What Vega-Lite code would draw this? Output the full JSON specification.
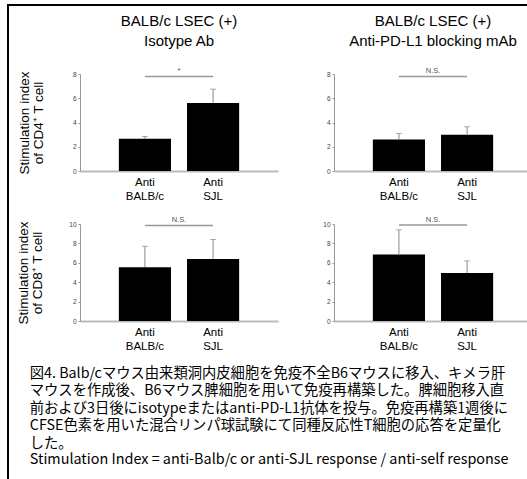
{
  "$schema": "https://vega.github.io/schema/vega-lite/v6.json",
  "padding": {"left": 7, "top": 4, "right": 0, "bottom": 0},
  "background": "white",
  "config": {
    "view": {"stroke": null},
    "font": "Liberation Sans",
    "title": {"fontSize": 15, "fontWeight": "normal", "font": "Liberation Sans", "lineHeight": 20, "color": "black", "offset": 18},
    "axisY": {"domainColor": "#999", "tickColor": "#999", "tickSize": 2, "labelFontSize": 6.5, "labelColor": "#444", "labelPadding": 2, "labelOverlap": false, "grid": false, "titleFontSize": 13.5, "titleFontWeight": "normal", "titleColor": "black", "titleLineHeight": 14, "titleFont": "Liberation Sans"},
    "axisX": {"domainColor": "#bbb", "domainWidth": 2, "ticks": false, "labelFontSize": 11.5, "labelColor": "black", "labelAngle": 0, "labelPadding": 5, "labelLineHeight": 14, "labelFont": "Liberation Sans"}
  },
  "datasets": {
    "cd4_iso": [{"group": "Anti BALB/c", "mean": 2.65, "upper": 2.85}, {"group": "Anti SJL", "mean": 5.6, "upper": 6.75}],
    "cd4_pdl1": [{"group": "Anti BALB/c", "mean": 2.6, "upper": 3.1}, {"group": "Anti SJL", "mean": 3.0, "upper": 3.65}],
    "cd8_iso": [{"group": "Anti BALB/c", "mean": 5.55, "upper": 7.7}, {"group": "Anti SJL", "mean": 6.4, "upper": 8.4}],
    "cd8_pdl1": [{"group": "Anti BALB/c", "mean": 6.85, "upper": 9.4}, {"group": "Anti SJL", "mean": 4.95, "upper": 6.2}]
  },
  "spacing": 0,
  "hconcat": [
    {"width": 2, "height": 476, "data": {"values": []}, "mark": "point", "view": {"fill": "black", "stroke": null}},
    {
      "spacing": 8,
      "vconcat": [
        {"width": 518, "height": 2, "data": {"values": []}, "mark": "point", "view": {"fill": "black", "stroke": null}},
        {
          "spacing": 0,
          "hconcat": [
            {"width": 7, "height": 1, "data": {"values": []}, "mark": "point"},
            {
              "spacing": 13,
              "title": {
                "text": ["図4. Balb/cマウス由来類洞内皮細胞を免疫不全B6マウスに移入、キメラ肝", "マウスを作成後、B6マウス脾細胞を用いて免疫再構築した。脾細胞移入直", "前および3日後にisotypeまたはanti-PD-L1抗体を投与。免疫再構築1週後に", "CFSE色素を用いた混合リンパ球試験にて同種反応性T細胞の応答を定量化", "した。"],
                "subtitle": "Stimulation Index = anti-Balb/c or anti-SJL response / anti-self response",
                "orient": "bottom", "anchor": "start", "frame": "bounds",
                "font": "Noto Sans CJK JP", "fontSize": 14.3, "fontWeight": "normal", "lineHeight": 17.5, "color": "black",
                "subtitleFont": "Noto Sans CJK JP", "subtitleFontSize": 14.4, "subtitleColor": "black", "subtitlePadding": 2,
                "offset": 15, "dx": 13
              },
              "vconcat": [
                {
                  "spacing": 48,
                  "hconcat": [
                    {
                      "width": 198, "height": 97,
                      "title": {"text": ["BALB/c LSEC (+)", "Isotype Ab"]},
                      "data": {"name": "cd4_iso"},
                      "encoding": {"x": {"field": "group", "type": "nominal", "title": null, "scale": {"paddingInner": 0.235, "paddingOuter": 0.57}, "axis": {"labelExpr": "split(datum.label, ' ')"}}},
                      "layer": [
                        {"mark": {"type": "bar", "color": "black"}, "encoding": {"y": {"field": "mean", "type": "quantitative", "title": ["Stimulation index", "of CD4⁺ T cell"], "scale": {"domain": [0, 8]}, "axis": {"values": [0, 2, 4, 6, 8], "titleFontSize": 13.5, "titleLineHeight": 14, "titlePadding": 27, "labelOverlap": false}}}},
                        {"mark": {"type": "rule", "color": "#888", "strokeWidth": 1}, "encoding": {"y": {"field": "mean", "type": "quantitative", "title": ["Stimulation index", "of CD4⁺ T cell"], "axis": {"values": [0, 2, 4, 6, 8], "titleFontSize": 13.5, "titleLineHeight": 14, "titlePadding": 27, "labelOverlap": false}}, "y2": {"field": "upper"}}},
                        {"mark": {"type": "tick", "color": "#888", "size": 6, "thickness": 1}, "encoding": {"y": {"field": "upper", "type": "quantitative", "title": ["Stimulation index", "of CD4⁺ T cell"], "axis": {"values": [0, 2, 4, 6, 8], "titleFontSize": 13.5, "titleLineHeight": 14, "titlePadding": 27, "labelOverlap": false}}}},
                        {"data": {"values": [{"from": "Anti BALB/c", "to": "Anti SJL", "y": 7.8, "label": "*"}]}, "mark": {"type": "rule", "color": "#999", "strokeWidth": 1.5}, "encoding": {"x": {"field": "from", "type": "nominal", "title": null, "bandPosition": 0.5, "axis": {"labelExpr": "split(datum.label, ' ')"}}, "x2": {"field": "to", "bandPosition": 0.5}, "y": {"field": "y", "type": "quantitative", "title": ["Stimulation index", "of CD4⁺ T cell"], "axis": {"values": [0, 2, 4, 6, 8], "titleFontSize": 13.5, "titleLineHeight": 14, "titlePadding": 27, "labelOverlap": false}}}},
                        {"data": {"values": [{"from": "Anti BALB/c", "to": "Anti SJL", "y": 7.8, "label": "*"}]}, "mark": {"type": "text", "fontSize": 8, "color": "#555", "baseline": "bottom", "dy": -1}, "encoding": {"x": {"field": "from", "type": "nominal", "title": null, "bandPosition": 1.154, "axis": {"labelExpr": "split(datum.label, ' ')"}}, "y": {"field": "y", "type": "quantitative", "title": ["Stimulation index", "of CD4⁺ T cell"], "axis": {"values": [0, 2, 4, 6, 8], "titleFontSize": 13.5, "titleLineHeight": 14, "titlePadding": 27, "labelOverlap": false}}, "text": {"field": "label"}}}
                      ]
                    },
                    {
                      "width": 198, "height": 97,
                      "title": {"text": ["BALB/c LSEC (+)", "Anti-PD-L1 blocking mAb"]},
                      "data": {"name": "cd4_pdl1"},
                      "encoding": {"x": {"field": "group", "type": "nominal", "title": null, "scale": {"paddingInner": 0.235, "paddingOuter": 0.57}, "axis": {"labelExpr": "split(datum.label, ' ')"}}},
                      "layer": [
                        {"mark": {"type": "bar", "color": "black"}, "encoding": {"y": {"field": "mean", "type": "quantitative", "title": null, "scale": {"domain": [0, 8]}, "axis": {"values": [0, 2, 4, 6, 8], "labelOverlap": false}}}},
                        {"mark": {"type": "rule", "color": "#888", "strokeWidth": 1}, "encoding": {"y": {"field": "mean", "type": "quantitative", "title": null, "axis": {"values": [0, 2, 4, 6, 8], "labelOverlap": false}}, "y2": {"field": "upper"}}},
                        {"mark": {"type": "tick", "color": "#888", "size": 6, "thickness": 1}, "encoding": {"y": {"field": "upper", "type": "quantitative", "title": null, "axis": {"values": [0, 2, 4, 6, 8], "labelOverlap": false}}}},
                        {"data": {"values": [{"from": "Anti BALB/c", "to": "Anti SJL", "y": 7.8, "label": "N.S."}]}, "mark": {"type": "rule", "color": "#999", "strokeWidth": 1.5}, "encoding": {"x": {"field": "from", "type": "nominal", "title": null, "bandPosition": 0.5, "axis": {"labelExpr": "split(datum.label, ' ')"}}, "x2": {"field": "to", "bandPosition": 0.5}, "y": {"field": "y", "type": "quantitative", "title": null, "axis": {"values": [0, 2, 4, 6, 8], "labelOverlap": false}}}},
                        {"data": {"values": [{"from": "Anti BALB/c", "to": "Anti SJL", "y": 7.8, "label": "N.S."}]}, "mark": {"type": "text", "fontSize": 7.5, "color": "#555", "baseline": "bottom", "dy": -1}, "encoding": {"x": {"field": "from", "type": "nominal", "title": null, "bandPosition": 1.154, "axis": {"labelExpr": "split(datum.label, ' ')"}}, "y": {"field": "y", "type": "quantitative", "title": null, "axis": {"values": [0, 2, 4, 6, 8], "labelOverlap": false}}, "text": {"field": "label"}}}
                      ]
                    }
                  ]
                },
                {
                  "spacing": 44,
                  "hconcat": [
                    {
                      "width": 198, "height": 97,
                      "data": {"name": "cd8_iso"},
                      "encoding": {"x": {"field": "group", "type": "nominal", "title": null, "scale": {"paddingInner": 0.235, "paddingOuter": 0.57}, "axis": {"labelExpr": "split(datum.label, ' ')"}}},
                      "layer": [
                        {"mark": {"type": "bar", "color": "black"}, "encoding": {"y": {"field": "mean", "type": "quantitative", "title": ["Stimulation index", "of CD8⁺ T cell"], "scale": {"domain": [0, 10]}, "axis": {"values": [0, 2, 4, 6, 8, 10], "titleFontSize": 13.5, "titleLineHeight": 14, "titlePadding": 24, "labelOverlap": false}}}},
                        {"mark": {"type": "rule", "color": "#888", "strokeWidth": 1}, "encoding": {"y": {"field": "mean", "type": "quantitative", "title": ["Stimulation index", "of CD8⁺ T cell"], "axis": {"values": [0, 2, 4, 6, 8, 10], "titleFontSize": 13.5, "titleLineHeight": 14, "titlePadding": 24, "labelOverlap": false}}, "y2": {"field": "upper"}}},
                        {"mark": {"type": "tick", "color": "#888", "size": 6, "thickness": 1}, "encoding": {"y": {"field": "upper", "type": "quantitative", "title": ["Stimulation index", "of CD8⁺ T cell"], "axis": {"values": [0, 2, 4, 6, 8, 10], "titleFontSize": 13.5, "titleLineHeight": 14, "titlePadding": 24, "labelOverlap": false}}}},
                        {"data": {"values": [{"from": "Anti BALB/c", "to": "Anti SJL", "y": 9.85, "label": "N.S."}]}, "mark": {"type": "rule", "color": "#999", "strokeWidth": 1.5}, "encoding": {"x": {"field": "from", "type": "nominal", "title": null, "bandPosition": 0.5, "axis": {"labelExpr": "split(datum.label, ' ')"}}, "x2": {"field": "to", "bandPosition": 0.5}, "y": {"field": "y", "type": "quantitative", "title": ["Stimulation index", "of CD8⁺ T cell"], "axis": {"values": [0, 2, 4, 6, 8, 10], "titleFontSize": 13.5, "titleLineHeight": 14, "titlePadding": 24, "labelOverlap": false}}}},
                        {"data": {"values": [{"from": "Anti BALB/c", "to": "Anti SJL", "y": 9.85, "label": "N.S."}]}, "mark": {"type": "text", "fontSize": 7.5, "color": "#555", "baseline": "bottom", "dy": -1}, "encoding": {"x": {"field": "from", "type": "nominal", "title": null, "bandPosition": 1.154, "axis": {"labelExpr": "split(datum.label, ' ')"}}, "y": {"field": "y", "type": "quantitative", "title": ["Stimulation index", "of CD8⁺ T cell"], "axis": {"values": [0, 2, 4, 6, 8, 10], "titleFontSize": 13.5, "titleLineHeight": 14, "titlePadding": 24, "labelOverlap": false}}, "text": {"field": "label"}}}
                      ]
                    },
                    {
                      "width": 198, "height": 97,
                      "data": {"name": "cd8_pdl1"},
                      "encoding": {"x": {"field": "group", "type": "nominal", "title": null, "scale": {"paddingInner": 0.235, "paddingOuter": 0.57}, "axis": {"labelExpr": "split(datum.label, ' ')"}}},
                      "layer": [
                        {"mark": {"type": "bar", "color": "black"}, "encoding": {"y": {"field": "mean", "type": "quantitative", "title": null, "scale": {"domain": [0, 10]}, "axis": {"values": [0, 2, 4, 6, 8, 10], "labelOverlap": false}}}},
                        {"mark": {"type": "rule", "color": "#888", "strokeWidth": 1}, "encoding": {"y": {"field": "mean", "type": "quantitative", "title": null, "axis": {"values": [0, 2, 4, 6, 8, 10], "labelOverlap": false}}, "y2": {"field": "upper"}}},
                        {"mark": {"type": "tick", "color": "#888", "size": 6, "thickness": 1}, "encoding": {"y": {"field": "upper", "type": "quantitative", "title": null, "axis": {"values": [0, 2, 4, 6, 8, 10], "labelOverlap": false}}}},
                        {"data": {"values": [{"from": "Anti BALB/c", "to": "Anti SJL", "y": 9.9, "label": "N.S."}]}, "mark": {"type": "rule", "color": "#999", "strokeWidth": 1.5}, "encoding": {"x": {"field": "from", "type": "nominal", "title": null, "bandPosition": 0.5, "axis": {"labelExpr": "split(datum.label, ' ')"}}, "x2": {"field": "to", "bandPosition": 0.5}, "y": {"field": "y", "type": "quantitative", "title": null, "axis": {"values": [0, 2, 4, 6, 8, 10], "labelOverlap": false}}}},
                        {"data": {"values": [{"from": "Anti BALB/c", "to": "Anti SJL", "y": 9.9, "label": "N.S."}]}, "mark": {"type": "text", "fontSize": 7.5, "color": "#555", "baseline": "bottom", "dy": -1}, "encoding": {"x": {"field": "from", "type": "nominal", "title": null, "bandPosition": 1.154, "axis": {"labelExpr": "split(datum.label, ' ')"}}, "y": {"field": "y", "type": "quantitative", "title": null, "axis": {"values": [0, 2, 4, 6, 8, 10], "labelOverlap": false}}, "text": {"field": "label"}}}
                      ]
                    }
                  ]
                }
              ]
            }
          ]
        }
      ]
    }
  ]
}
